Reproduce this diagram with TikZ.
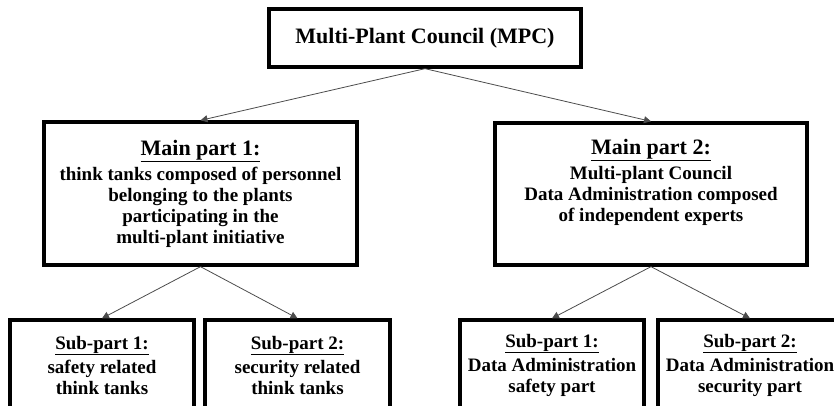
\documentclass[tikz,border=0pt]{standalone}
\usepackage{fontspec}
\setmainfont{Liberation Serif}
\usetikzlibrary{arrows.meta, positioning}

\begin{document}
\begin{tikzpicture}[x=1pt,y=-1pt,
    box/.style={draw, line width=3.3pt, inner sep=0pt, align=center,
      font=\bfseries\fontsize{19}{21}\selectfont},
    link/.style={draw=black!70, line width=0.8pt, -{Triangle[length=7pt,width=7pt]}}]
    \useasboundingbox (0,0) rectangle (834,405);
    \clip (0,0) rectangle (834,405);
    % top level
    \node (mpc) at (425,38)[box, minimum width=312pt, minimum height=58pt]
      {\fontsize{22}{24}\selectfont Multi-Plant Council (MPC)};
    % main parts
    \node (mp1) at (200.5,193.5)[box, minimum width=313pt, minimum height=143pt]
      {{\fontsize{22}{24}\selectfont\underline{Main part 1:}}\\[4pt]
       think tanks composed of personnel\\
       belonging to the plants\\
       participating in the\\
       multi-plant initiative};
    \node (mp2) at (651,194)[box, minimum width=312pt, minimum height=142pt]
      {{\fontsize{22}{24}\selectfont\underline{Main part 2:}}\\[4pt]
       Multi-plant Council\\
       Data Administration composed\\
       of independent experts\\
       \strut};
    % sub parts
    \node (sp1) at (102,365)[box, minimum width=184pt, minimum height=90pt]
      {{\fontsize{19}{22}\selectfont\underline{Sub-part 1:}}\\[3pt]
       safety related\\ think tanks};
    \node (sp2) at (297.5,365)[box, minimum width=185pt, minimum height=90pt]
      {{\fontsize{19}{22}\selectfont\underline{Sub-part 2:}}\\[3pt]
       security related\\ think tanks};
    \node (sp3) at (552,365)[box, minimum width=184pt, minimum height=90pt]
      {{\fontsize{19}{22}\selectfont\underline{Sub-part 1:}}\\[3pt]
       Data Administration\\ safety part};
    \node (sp4) at (750,365)[box, minimum width=184pt, minimum height=90pt]
      {{\fontsize{19}{22}\selectfont\underline{Sub-part 2:}}\\[3pt]
       Data Administration\\ security part};
    % connectors
    \draw[link] (mpc.south) -- (mp1.north);
    \draw[link] (mpc.south) -- (mp2.north);
    \draw[link] (mp1.south) -- (sp1.north);
    \draw[link] (mp1.south) -- (sp2.north);
    \draw[link] (mp2.south) -- (sp3.north);
    \draw[link] (mp2.south) -- (sp4.north);
\end{tikzpicture}
\end{document}
